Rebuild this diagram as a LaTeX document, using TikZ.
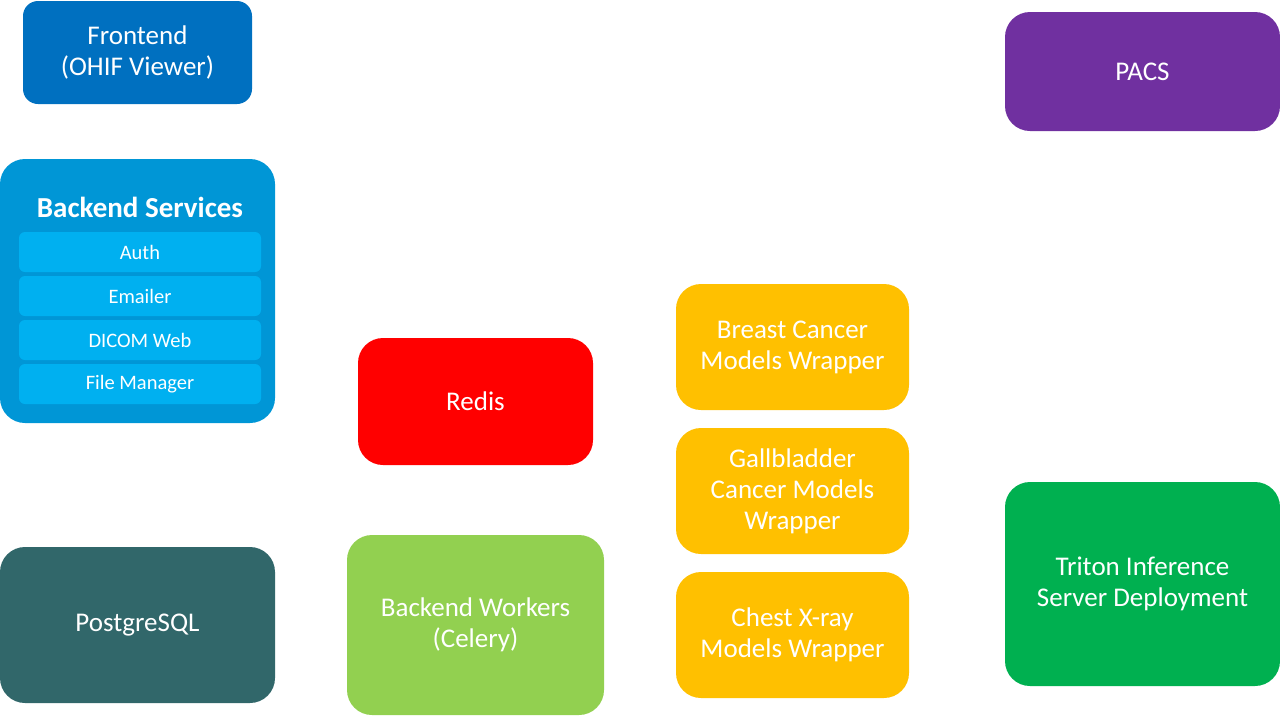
\documentclass[tikz,border=0pt]{standalone}
\usepackage{fontspec}
\setmainfont{Carlito}
\begin{document}
\begin{tikzpicture}[x=1pt,y=-1pt,
    box/.style={rounded corners=25pt,inner sep=0pt,outer sep=0pt,align=center,
      text=white,font=\fontsize{27}{31}\selectfont},
    subbox/.style={rounded corners=6pt,inner sep=0pt,outer sep=0pt,fill=svcinner,
      text=white,minimum width=242pt,minimum height=40pt,
      font=\fontsize{20.5}{24}\selectfont}]
  \definecolor{front}{HTML}{0070C0}
  \definecolor{pacs}{HTML}{7030A0}
  \definecolor{svc}{HTML}{0096D6}
  \definecolor{svcinner}{HTML}{00B0F0}
  \definecolor{redis}{HTML}{FF0000}
  \definecolor{pg}{HTML}{31676A}
  \definecolor{worker}{HTML}{92D050}
  \definecolor{wrap}{HTML}{FFC000}
  \definecolor{triton}{HTML}{00B050}
  \useasboundingbox (0,0) rectangle (1280,716);
  \node[box,fill=front,rounded corners=15pt,minimum width=229pt,minimum height=103pt]
    (frontend) at (137.5,52.5) {Frontend\\(OHIF Viewer)};
  \node[box,fill=pacs,minimum width=275pt,minimum height=119pt]
    (pacs) at (1142.5,71.5) {PACS};
  \node[box,fill=svc,minimum width=275pt,minimum height=264pt]
    (backend) at (137.5,291) {};
  \node[text=white,font=\fontsize{29}{31}\selectfont\bfseries]
    (title) at (140,207) {Backend Services};
  \node[subbox] (auth) at (140,252) {Auth};
  \node[subbox] (email) at (140,296) {Emailer};
  \node[subbox] (dicom) at (140,340) {DICOM Web};
  \node[subbox] (files) at (140,384) {File Manager};
  \node[box,fill=redis,minimum width=235pt,minimum height=127pt]
    (redis) at (475.5,401.5) {Redis};
  \node[box,fill=pg,minimum width=275pt,minimum height=156pt]
    (postgres) at (137.5,625) {PostgreSQL};
  \node[box,fill=worker,minimum width=257pt,minimum height=180pt]
    (workers) at (475.5,625) {Backend Workers\\(Celery)};
  \node[box,fill=wrap,minimum width=233pt,minimum height=126pt]
    (breast) at (792.5,347) {Breast Cancer\\Models Wrapper};
  \node[box,fill=wrap,minimum width=233pt,minimum height=126pt]
    (gall) at (792.5,491) {Gallbladder\\Cancer Models\\Wrapper};
  \node[box,fill=wrap,minimum width=233pt,minimum height=126pt]
    (chest) at (792.5,635) {Chest X-ray\\Models Wrapper};
  \node[box,fill=triton,minimum width=275pt,minimum height=204pt]
    (triton) at (1142.5,584) {Triton Inference\\Server Deployment};
\end{tikzpicture}
\end{document}
